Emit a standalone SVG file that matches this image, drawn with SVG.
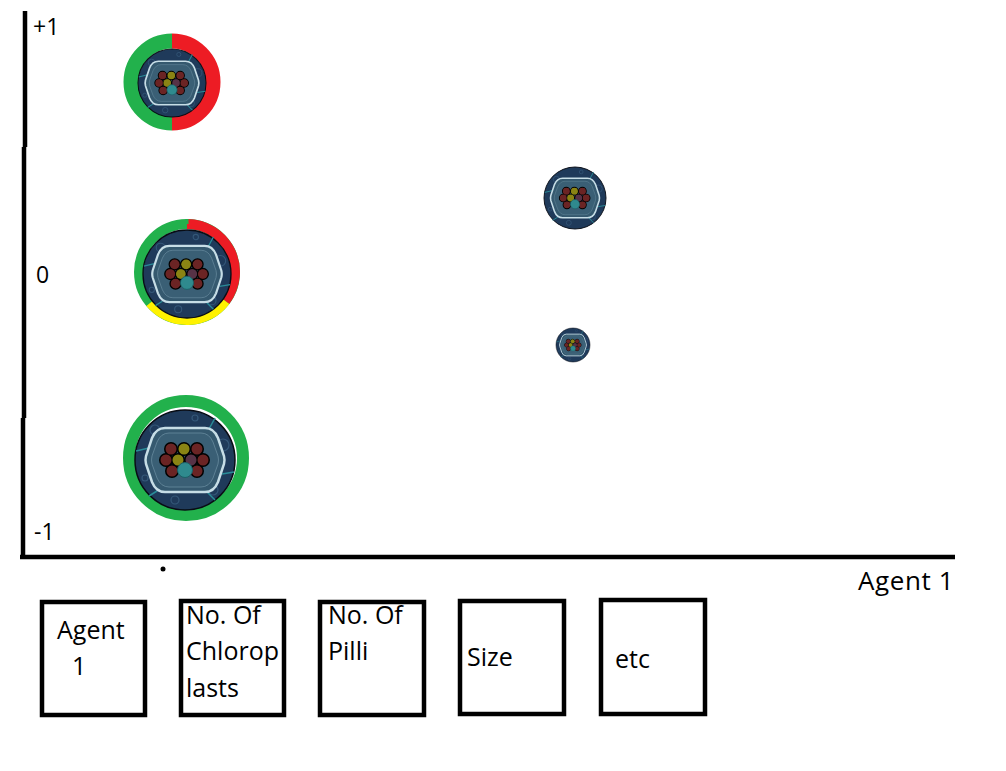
<svg xmlns="http://www.w3.org/2000/svg" xmlns:xlink="http://www.w3.org/1999/xlink" width="1006" height="771" viewBox="0 0 1006 771">
<style>
.t{font-family:"Open Sans","Liberation Sans",sans-serif;font-size:25px;fill:#000}
.n{font-size:23px}
.ax{stroke:#000;stroke-width:4.5;fill:none}
.box{fill:#fff;stroke:#000;stroke-width:4.5}
.ring{fill:none}
</style>
<defs>
<g id="cell">
  <circle r="50" fill="#1f3a5a" stroke="#080c14" stroke-width="1.5"/>
  <g fill="none" stroke="#3a5f80" stroke-width="1.2" opacity="0.8">
    <circle cx="-30" cy="-30" r="5"/>
    <circle cx="38" cy="-15" r="6"/>
    <circle cx="28" cy="30" r="5"/>
    <circle cx="-10" cy="40" r="4"/>
    <circle cx="-40" cy="18" r="3"/>
    <circle cx="10" cy="-42" r="3"/>
  </g>
  <g fill="none" stroke="#2a8c98" stroke-width="1.5">
    <path d="M-36,-12 L-49,-9"/>
    <path d="M24,-31 L30,-42"/>
    <path d="M37,14 L49,12"/>
    <path d="M-28,31 L-36,36"/>
    <path d="M22,32 L30,40"/>
  </g>
  <path d="M-20,-32 L20,-32 Q29,-32 33,-22 L39,-4 Q40,0 39,4 L33,22 Q29,32 20,32 L-20,32 Q-29,32 -33,22 L-39,4 Q-40,0 -39,-4 L-33,-22 Q-29,-32 -20,-32 Z" fill="#35596f" stroke="#c6dde6" stroke-width="2.5"/>
  <path d="M-16,-27 L16,-27 Q24,-27 28,-18 L33,-4 Q34,0 33,4 L28,18 Q24,27 16,27 L-16,27 Q-24,27 -28,18 L-33,4 Q-34,0 -33,-4 L-28,-18 Q-24,-27 -16,-27 Z" fill="#3d6278" stroke="#6f93a6" stroke-width="1" opacity="0.7"/>
  <g stroke="#000" stroke-width="2">
    <circle cx="-14" cy="-11" r="6" fill="#6b2424"/>
    <circle cx="-1" cy="-11" r="6" fill="#8a8414"/>
    <circle cx="12" cy="-11" r="6" fill="#6b2424"/>
    <circle cx="-19" cy="0" r="6" fill="#6b2424"/>
    <circle cx="-7" cy="0" r="6" fill="#8a8414"/>
    <circle cx="6" cy="0" r="6" fill="#573246"/>
    <circle cx="18" cy="0" r="6" fill="#6b2424"/>
    <circle cx="-13" cy="11" r="6" fill="#6b2424"/>
    <circle cx="12" cy="11" r="6" fill="#6b2424"/>
  </g>
  <g stroke="none">
    <circle cx="-14" cy="-11" r="5.5" fill="#6b2424"/>
    <circle cx="-1" cy="-11" r="5.5" fill="#8a8414"/>
    <circle cx="12" cy="-11" r="5.5" fill="#6b2424"/>
    <circle cx="-19" cy="0" r="5.5" fill="#6b2424"/>
    <circle cx="-7" cy="0" r="5.5" fill="#8a8414"/>
    <circle cx="6" cy="0" r="5.5" fill="#573246"/>
    <circle cx="18" cy="0" r="5.5" fill="#6b2424"/>
    <circle cx="-13" cy="11" r="5.5" fill="#6b2424"/>
    <circle cx="12" cy="11" r="5.5" fill="#6b2424"/>
  </g>
  <circle cx="0" cy="10" r="7.5" fill="#2f8a8e" stroke="#1d5f66" stroke-width="1"/>
</g>
</defs>

<g id="axes">
  <path class="ax" d="M25,11 L25,147"/>
  <path class="ax" d="M24,147 L24,418"/>
  <path class="ax" d="M23,418 L23,557"/>
  <path class="ax" d="M20,557 L955,557"/>
  <circle cx="163" cy="569" r="2.5" fill="#000"/>
</g>

<g id="axis-labels">
  <text class="t n" x="33" y="35">+1</text>
  <text class="t n" x="36" y="283">0</text>
  <text class="t n" x="34" y="540">-1</text>
  <text class="t" x="858" y="590" style="font-size:26px;letter-spacing:0.6px">Agent 1</text>
</g>

<g id="cell-1">
  <path class="ring" d="M172,41 A41,41 0 0 0 172,123" stroke="#22b14c" stroke-width="15"/>
  <path class="ring" d="M172,41 A41,41 0 0 1 172,123" stroke="#ed1c24" stroke-width="15"/>
  <use xlink:href="#cell" href="#cell" transform="translate(172,83) scale(0.68)"/>
</g>

<g id="cell-2">
  <circle cx="187" cy="272" r="48" fill="none" stroke="#22b14c" stroke-width="10"/>
  <path class="ring" d="M187,224 A48,48 0 0 1 225.3,300.9" stroke="#ed1c24" stroke-width="10"/>
  <path class="ring" d="M225.3,300.9 A48,48 0 0 1 150.2,302.9" stroke="#fff200" stroke-width="10"/>
  <rect x="185.5" y="219" width="3" height="5" fill="#22b14c"/>
  <use xlink:href="#cell" href="#cell" transform="translate(187,274) scale(0.88)"/>
</g>

<g id="cell-3">
  <circle cx="186" cy="458" r="57" fill="none" stroke="#22b14c" stroke-width="12"/>
  <use xlink:href="#cell" href="#cell" transform="translate(185,460) scale(1)"/>
</g>

<g id="cell-4">
  <use xlink:href="#cell" href="#cell" transform="translate(575,198) scale(0.62)"/>
</g>

<g id="cell-5">
  <use xlink:href="#cell" href="#cell" transform="translate(573,345) scale(0.34)"/>
</g>

<g id="box-agent">
  <rect class="box" x="42" y="602" width="103" height="113"/>
  <text class="t" x="57" y="639">Agent</text>
  <text class="t" x="72" y="675">1</text>
</g>
<g id="box-chloroplasts">
  <rect class="box" x="181" y="601" width="103" height="114"/>
  <text class="t" x="186" y="624">No. Of</text>
  <text class="t" x="186" y="660">Chlorop</text>
  <text class="t" x="186" y="697">lasts</text>
</g>
<g id="box-pilli">
  <rect class="box" x="320" y="602" width="104" height="113"/>
  <text class="t" x="328" y="624">No. Of</text>
  <text class="t" x="328" y="660">Pilli</text>
</g>
<g id="box-size">
  <rect class="box" x="460" y="601" width="104" height="113"/>
  <text class="t" x="467" y="666">Size</text>
</g>
<g id="box-etc">
  <rect class="box" x="601" y="600" width="104" height="114"/>
  <text class="t" x="615" y="668">etc</text>
</g>
</svg>
